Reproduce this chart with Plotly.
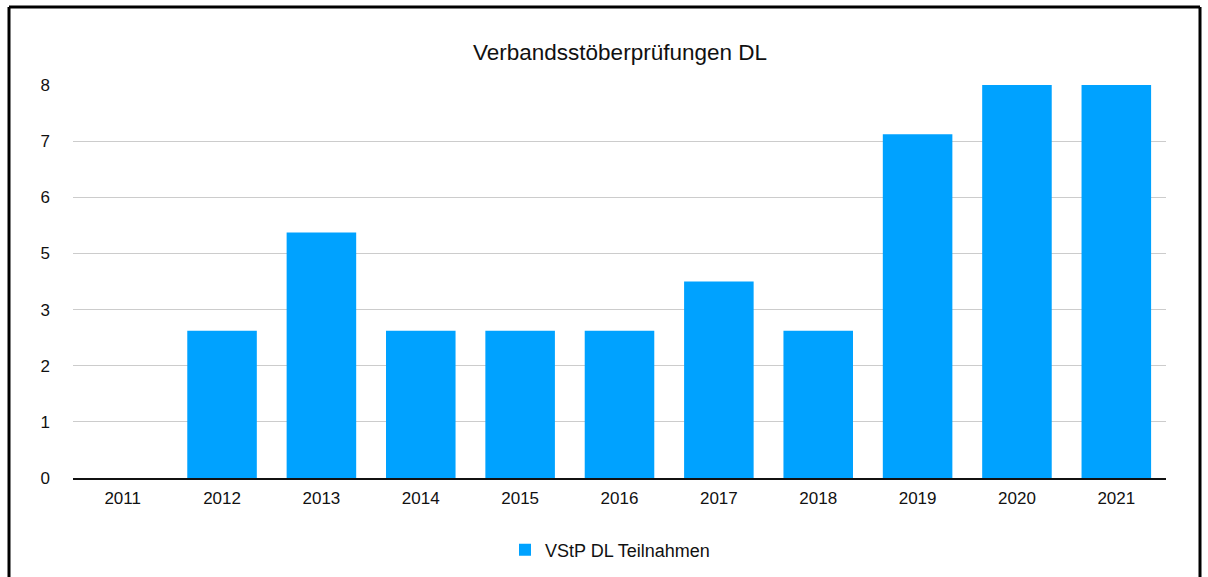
import plotly.graph_objects as go

years = ["2011", "2012", "2013", "2014", "2015", "2016", "2017", "2018", "2019", "2020", "2021"]
teilnahmen = [0, 3, 5, 3, 3, 3, 4, 3, 7, 8, 8]
y_max = 8
n_intervals = 7
tick_vals = [i * y_max / n_intervals for i in range(n_intervals + 1)]
tick_text = [str(round(v)) for v in tick_vals]

W, H = 1208, 577
L, R, T, B = 73, 42, 85, 99
pw, ph = W - L - R, H - T - B

def px_x(px):
    return (px - L) / pw

def px_y(py):
    return (H - B - py) / ph

fig = go.Figure()
fig.add_trace(go.Bar(
    x=years, y=teilnahmen, name="VStP DL Teilnahmen",
    marker=dict(color="#00A2FF", line=dict(width=0)),
))

fig.update_layout(
    width=W, height=H,
    margin=dict(l=L, r=R, t=T, b=B, autoexpand=False),
    paper_bgcolor="white", plot_bgcolor="white",
    font=dict(family="Liberation Sans, Arial, sans-serif", size=18, color="#111111"),
    title=dict(text="Verbandsstöberprüfungen DL", x=620 / W, xanchor="center",
               y=1 - 52 / H, yanchor="middle", font=dict(size=22.5, color="#111111")),
    bargap=0.3,
    showlegend=True,
    legend=dict(orientation="h", x=px_x(610), xanchor="center", y=px_y(550), yanchor="middle",
                font=dict(size=18), itemsizing="constant"),
    xaxis=dict(type="category", showgrid=False, showline=True, linecolor="#111111",
               linewidth=1.5, ticks="", ticklabelstandoff=4, tickfont=dict(size=17)),
    yaxis=dict(range=[0, y_max], tickvals=tick_vals, ticktext=tick_text, showgrid=True,
               gridcolor="#cccccc", gridwidth=1, zeroline=False, showline=False,
               ticks="", ticklabelstandoff=22, tickfont=dict(size=17)),
    shapes=[
        dict(type="line", xref="paper", yref="paper", x0=px_x(9), x1=px_x(9),
             y0=px_y(7), y1=px_y(600), line=dict(color="black", width=3)),
        dict(type="line", xref="paper", yref="paper", x0=px_x(9), x1=px_x(1200),
             y0=px_y(7), y1=px_y(7), line=dict(color="black", width=3)),
        dict(type="line", xref="paper", yref="paper", x0=px_x(1200), x1=px_x(1200),
             y0=px_y(7), y1=px_y(600), line=dict(color="black", width=3)),
    ],
)

fig.write_html("out.html", config={"displayModeBar": False},
               post_script="document.body.style.margin='0';")
